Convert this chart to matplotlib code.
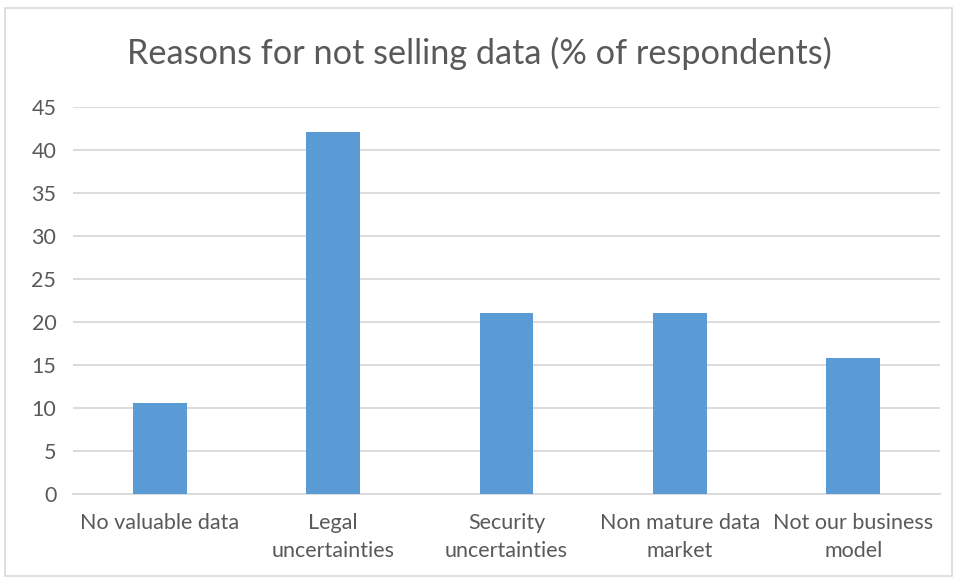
import matplotlib.pyplot as plt
from matplotlib.patches import Rectangle

# dados do grafico
categorias = ['No valuable data', 'Legal\nuncertainties', 'Security\nuncertainties',
              'Non mature data\nmarket', 'Not our business\nmodel']
valores = [10.53, 42.11, 21.05, 21.05, 15.79]
yticks = [0, 5, 10, 15, 20, 25, 30, 35, 40, 45]

plt.rcParams['font.family'] = ['Lato', 'DejaVu Sans']
cinza = '#595959'

fig = plt.figure(figsize=(9.58, 5.81), dpi=100)
ax = fig.add_axes([0.0762, 0.1497, 0.905, 0.6661])

# borda do grafico
fig.patches.append(Rectangle((5 / 958, 1 - 576 / 581), 947 / 958, 568 / 581,
                             transform=fig.transFigure, fill=False,
                             edgecolor='#d9d9d9', linewidth=1.2))

x = range(len(categorias))
ax.bar(x, valores, width=0.31, color='#5b9bd5', zorder=3)

ax.set_xlim(-0.5, len(categorias) - 0.5)
ax.set_ylim(0, 45)
ax.set_yticks(yticks)
ax.set_xticks(list(x))
ax.set_xticklabels(categorias, color=cinza, fontsize=15.5, linespacing=1.45)
ax.tick_params(axis='y', colors=cinza, labelsize=15.5, length=0, pad=12)
ax.tick_params(axis='x', length=0, pad=14)
ax.grid(axis='y', color='#d9d9d9', linewidth=1.3, zorder=0)
for s in ['top', 'right', 'left']:
    ax.spines[s].set_visible(False)
ax.spines['bottom'].set_color('#d9d9d9')
ax.spines['bottom'].set_linewidth(1.3)

fig.text(0.5, 1 - 53 / 581, 'Reasons for not selling data (% of respondents)',
         ha='center', va='center', fontsize=24.7, color=cinza)

fig.savefig('out.png', dpi=100)
